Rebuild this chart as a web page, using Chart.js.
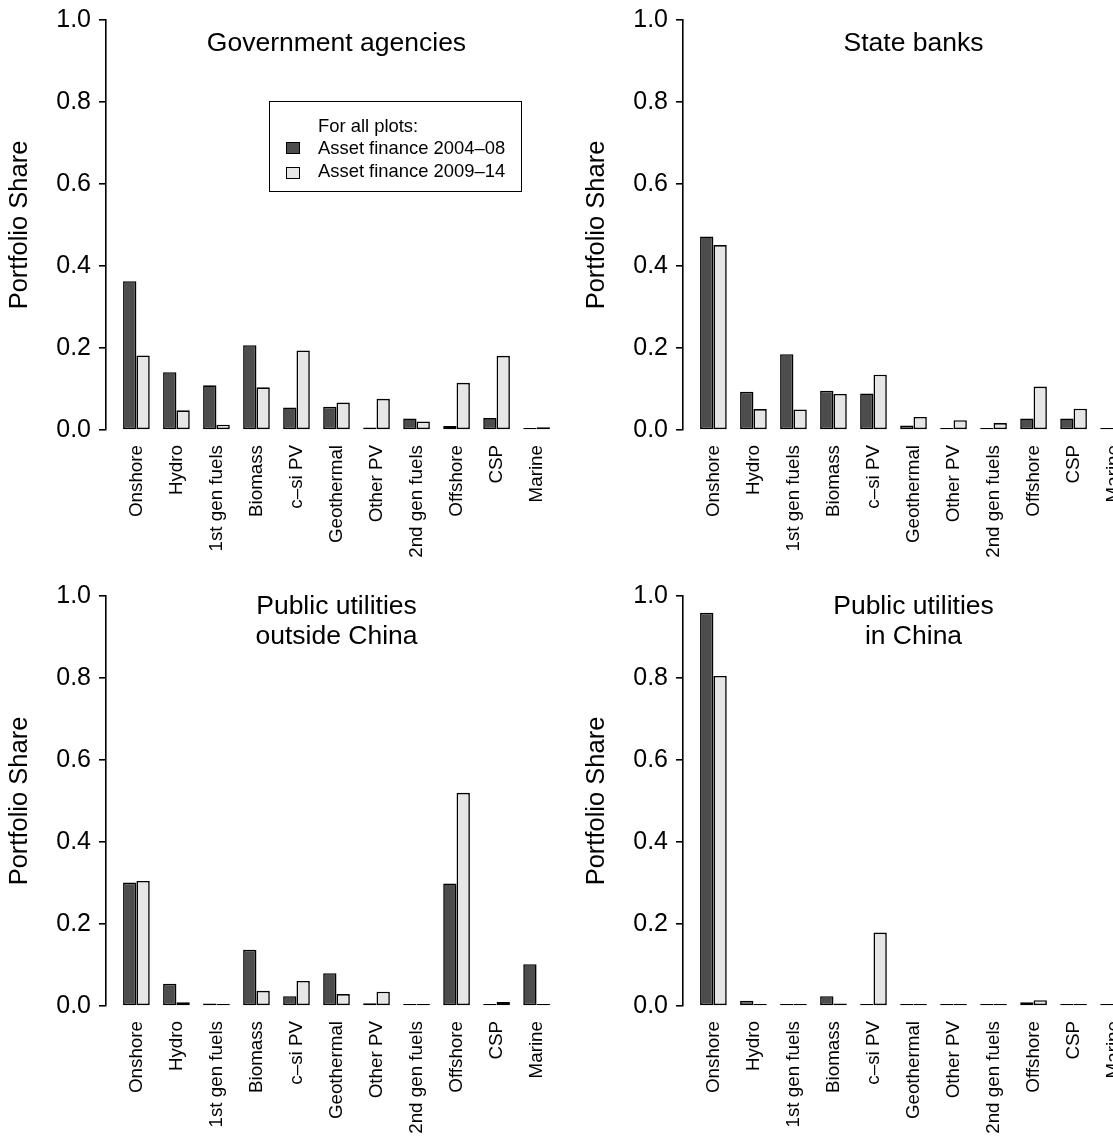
<!DOCTYPE html>
<html>
<head>
<meta charset="utf-8">
<script src="https://cdn.jsdelivr.net/npm/chart.js@4/dist/chart.umd.min.js"></script>
<style>
  html, body { margin: 0; padding: 0; background: #fff; }
  body { width: 1113px; height: 1139px; overflow: hidden; position: relative;
         font-family: "Liberation Sans", Arial, Helvetica, sans-serif; color: #000; }
  .panel { position: absolute; width: 577px; height: 576px; }
  .panel canvas { position: absolute; left: 0; top: 0; }
  .ptitle { position: absolute; left: 106px; width: 461px; text-align: center;
            font-size: 26.5px; line-height: 30px; }
  .legend { position: absolute; left: 269px; top: 101px; width: 251px; height: 89px;
            border: 1.6px solid #000; font-size: 18.4px; }
  .legend .row { position: absolute; left: 48px; white-space: nowrap; line-height: 22px; }
  .legend .box { position: absolute; left: 16px; width: 12px; height: 9.5px; border: 1.5px solid #000; }
</style>
</head>
<body>
<script>
// categories shared by all four panels
const categories = ['Onshore', 'Hydro', '1st gen fuels', 'Biomass', 'c–si PV', 'Geothermal',
                    'Other PV', '2nd gen fuels', 'Offshore', 'CSP', 'Marine'];
const seriesNames = ['Asset finance 2004–08', 'Asset finance 2009–14'];
const yTicks = [0, 0.2, 0.4, 0.6, 0.8, 1.0];

// portfolio shares
const govEarly   = [0.363, 0.141, 0.109, 0.207, 0.055, 0.057, 0.006, 0.028, 0.010, 0.029, 0.004];
const govLate    = [0.182, 0.048, 0.013, 0.104, 0.194, 0.067, 0.076, 0.021, 0.115, 0.181, 0.007];
const bankEarly  = [0.472, 0.093, 0.185, 0.096, 0.089, 0.011, 0.001, 0.003, 0.028, 0.028, 0.000];
const bankLate   = [0.451, 0.051, 0.050, 0.088, 0.135, 0.032, 0.024, 0.017, 0.106, 0.052, 0.000];
const utilEarly  = [0.301, 0.054, 0.006, 0.137, 0.024, 0.080, 0.007, 0.001, 0.299, 0.001, 0.102];
const utilLate   = [0.305, 0.009, 0.001, 0.037, 0.061, 0.029, 0.035, 0.001, 0.520, 0.010, 0.001];
const chinaEarly = [0.959, 0.013, 0.000, 0.024, 0.001, 0.001, 0.001, 0.000, 0.009, 0.001, 0.000];
const chinaLate  = [0.805, 0.003, 0.000, 0.006, 0.179, 0.001, 0.002, 0.000, 0.014, 0.001, 0.000];

const panels = [
  { left: 0,   top: 0,   title: ['Government agencies'], early: govEarly, late: govLate, legend: true },
  { left: 577, top: 0,   title: ['State banks'], early: bankEarly, late: bankLate },
  { left: 0,   top: 576, title: ['Public utilities', 'outside China'], early: utilEarly, late: utilLate },
  { left: 577, top: 576, title: ['Public utilities', 'in China'], early: chinaEarly, late: chinaLate }
];

const DARK = '#4d4d4d';
const LIGHT = '#e6e6e6';

// barplot-style layout: bar width 1, gap 1 before each pair
const groupCenter = i => 2 + 3 * i;

function toPoints(values) {
    return values.map((v, i) => ({ x: groupCenter(i), y: v }));
}

function makePanel(p) {
    const div = document.createElement('div');
    div.className = 'panel';
    div.style.left = p.left + 'px';
    div.style.top = p.top + 'px';
    const canvas = document.createElement('canvas');
    canvas.width = 577;
    canvas.height = 576;
    div.appendChild(canvas);

    const t = document.createElement('div');
    t.className = 'ptitle';
    t.style.top = (p.title.length > 1 ? 14 : 27) + 'px';
    t.innerHTML = p.title.join('<br>');
    div.appendChild(t);

    if (p.legend) {
        const lg = document.createElement('div');
        lg.className = 'legend';
        lg.innerHTML =
            '<div class="row" style="top:13px">For all plots:</div>' +
            '<div class="box" style="top:40px;background:' + DARK + '"></div>' +
            '<div class="row" style="top:35px">' + seriesNames[0] + '</div>' +
            '<div class="box" style="top:65px;background:' + LIGHT + '"></div>' +
            '<div class="row" style="top:58px">' + seriesNames[1] + '</div>';
        div.appendChild(lg);
    }
    document.body.appendChild(div);

    new Chart(canvas.getContext('2d'), {
        type: 'bar',
        data: {
            datasets: [
                { label: seriesNames[0], data: toPoints(p.early), backgroundColor: DARK },
                { label: seriesNames[1], data: toPoints(p.late), backgroundColor: LIGHT }
            ]
        },
        options: {
            responsive: false,
            animation: false,
            layout: { padding: { top: 20, right: 10, left: 0, bottom: 0 } },
            datasets: {
                bar: {
                    categoryPercentage: 2 / 3,
                    barPercentage: 1,
                    borderColor: '#000',
                    borderWidth: 1.6,
                    borderSkipped: false,
                    minBarLength: 2
                }
            },
            plugins: {
                legend: { display: false },
                tooltip: { enabled: false }
            },
            scales: {
                x: {
                    type: 'linear',
                    offset: false,
                    min: -0.28,
                    max: 34.28,
                    afterBuildTicks: s => { s.ticks = categories.map((c, i) => ({ value: groupCenter(i) })); },
                    afterFit: s => { s.height = 146; },
                    grid: { display: false, drawTicks: false },
                    border: { display: false },
                    ticks: {
                        autoSkip: false,
                        minRotation: 90,
                        maxRotation: 90,
                        padding: 15,
                        color: '#000',
                        font: { size: 18.8 },
                        callback: (v, i) => categories[i]
                    }
                },
                y: {
                    min: 0,
                    max: 1,
                    afterFit: s => { s.width = 106; s.paddingTop = 0; s.paddingBottom = 0; },
                    afterBuildTicks: s => { s.ticks = yTicks.map(v => ({ value: v })); },
                    grid: { drawOnChartArea: false, drawTicks: true, tickLength: 7, color: '#000', lineWidth: 1.6 },
                    border: { display: true, color: '#000', width: 1.6 },
                    ticks: {
                        padding: 8,
                        color: '#000',
                        font: { size: 25 },
                        callback: v => v.toFixed(1)
                    },
                    title: {
                        display: true,
                        text: 'Portfolio Share',
                        color: '#000',
                        font: { size: 25.5 },
                        padding: { top: 5, bottom: 0 }
                    }
                }
            }
        }
    });
}

Chart.defaults.font.family = '"Liberation Sans", Arial, Helvetica, sans-serif';
panels.forEach(makePanel);
</script>
</body>
</html>
